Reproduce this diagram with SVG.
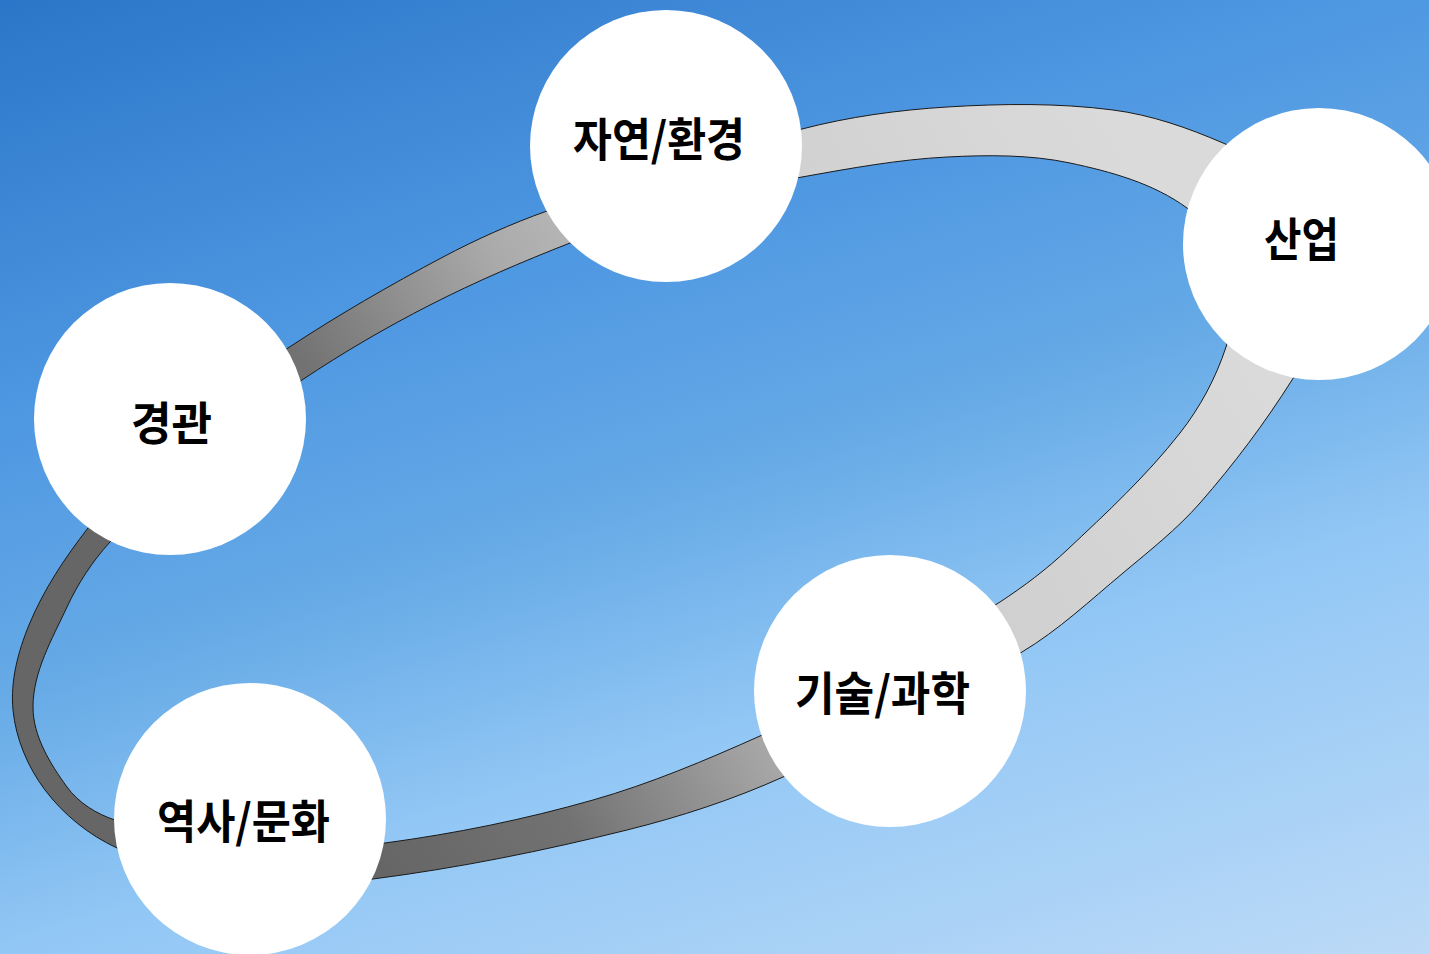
<svg xmlns="http://www.w3.org/2000/svg" width="1429" height="954" viewBox="0 0 1429 954">
<defs>
<linearGradient id="bg" gradientUnits="userSpaceOnUse" x1="0" y1="0" x2="388" y2="1272">
<stop offset="0" stop-color="#2c76c9"/>
<stop offset="0.31" stop-color="#4f98e2"/>
<stop offset="0.5" stop-color="#66aae6"/>
<stop offset="0.686" stop-color="#92c7f5"/>
<stop offset="1" stop-color="#bcdaf7"/>
</linearGradient>
<linearGradient id="ringGrad" gradientUnits="userSpaceOnUse" x1="89" y1="853" x2="1171" y2="228">
<stop offset="0.2" stop-color="#666666"/>
<stop offset="0.344" stop-color="#727272"/>
<stop offset="0.52" stop-color="#aaaaaa"/>
<stop offset="0.728" stop-color="#d0d0d0"/>
<stop offset="1" stop-color="#dadada"/>
</linearGradient>
<style>
.node circle { fill: #ffffff; }
.node text { font-family: "Noto Sans CJK KR", "Noto Sans", sans-serif; font-weight: bold; font-size: 46px; fill: #000000; text-anchor: middle; dominant-baseline: central; }
.ring { fill: url(#ringGrad); fill-rule: evenodd; stroke: #1a1a1a; stroke-width: 1; }
</style>
</defs>
<rect x="0" y="0" width="1429" height="954" fill="url(#bg)"/>
<g id="connectors">
<path class="ring" d="M13,710 C10.2,681.3 18,651.7 29,625 C43.4,590 64.8,557.9 88,528 C115.4,492.6 146.7,460 180,430 C213.6,399.8 250.3,372.9 288,348 C338,315.1 390.1,285 443,257 C476.5,239.3 511.3,223.7 547,211 C631.1,181 715.6,151.5 802,129 C849.3,116.7 898.2,110 947,107 C1002.2,103.6 1058.1,102.9 1113,110 C1151,114.9 1187.8,127.8 1223,143 C1254,156.4 1289.5,168.1 1310,195 C1329.8,221 1338.2,257.5 1335,290 C1331.8,323 1309.8,351.9 1292,380 C1264.6,423.3 1233.7,464.5 1200,503 C1177.1,529.1 1149.6,550.7 1123,573 C1090.2,600.4 1058.6,630.1 1022,652 C945,698.2 865,740.1 783,777 C732.9,799.6 680.3,816.8 627,830 C543.4,850.8 458.5,868 373,879 C329.1,884.7 284,885.3 240,880 C197.9,874.9 155.5,865.8 117,848 C89,835.1 63.5,814.6 45,790 C27.7,767.1 15.8,738.6 13,710 Z M33,707 C33,671.8 52.1,638.9 67,607 C78,583.4 92.5,561.2 110,542 C138.8,510.3 172.2,482.7 205,455 C236.2,428.6 268,402.7 302,380 C343.2,352.5 385.9,327.5 430,305 C475.4,281.8 522.5,261.6 570,243 C609.3,227.6 649.4,214.6 690,203 C726.8,192.5 764.3,183.7 802,177 C850,168.4 898.2,159.5 947,157 C988,154.9 1029.9,154.5 1070,163 C1110.9,171.7 1153.3,183.3 1187,208 C1209.6,224.5 1222.4,253 1230,280 C1236,301.6 1233,325.7 1226,347 C1215.9,377.9 1200.1,407.4 1180,433 C1146.6,475.7 1106.5,512.9 1067,550 C1046.4,569.4 1023.7,586.5 1000,602 C961.2,627.3 920.4,649.5 880,672 C840.5,694.1 801.4,717.6 760,736 C705.6,760.3 650.3,783.7 593,800 C524.9,819.4 455.2,833.6 385,843 C340.4,849 294.8,849.8 250,846 C204.4,842.1 158.6,834.1 115,820 C96.5,814 78.4,802.7 67,787 C50,763.5 33,736 33,707 Z"/>
</g>
<g id="node-nature" class="node">
<circle cx="666" cy="146" r="136"/>
<text x="659" y="136" textLength="172" lengthAdjust="spacingAndGlyphs">자연/환경</text>
</g>
<g id="node-industry" class="node">
<circle cx="1319" cy="244" r="136"/>
<text x="1301.5" y="236" textLength="75" lengthAdjust="spacingAndGlyphs">산업</text>
</g>
<g id="node-landscape" class="node">
<circle cx="170" cy="419" r="136"/>
<text x="171.5" y="420" textLength="81" lengthAdjust="spacingAndGlyphs">경관</text>
</g>
<g id="node-tech" class="node">
<circle cx="890" cy="691" r="136"/>
<text x="882.5" y="690" textLength="175" lengthAdjust="spacingAndGlyphs">기술/과학</text>
</g>
<g id="node-history" class="node">
<circle cx="250" cy="819" r="136"/>
<text x="243.5" y="818" textLength="173" lengthAdjust="spacingAndGlyphs">역사/문화</text>
</g>
</svg>
